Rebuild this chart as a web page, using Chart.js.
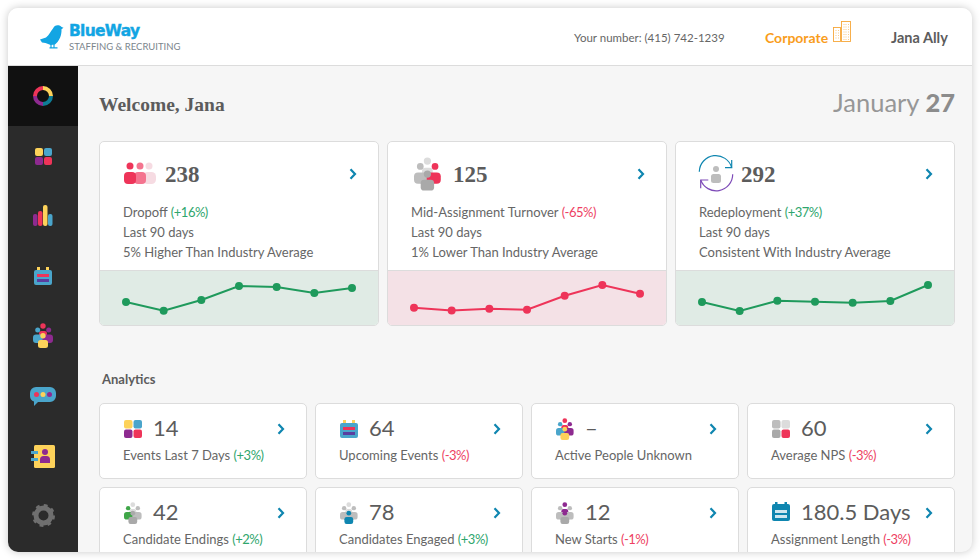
<!DOCTYPE html>
<html><head><meta charset="utf-8"><title>BlueWay dashboard</title>
<script src="https://cdn.jsdelivr.net/npm/chart.js@4"></script>
<style>
html,body{margin:0;padding:0;width:980px;height:560px;overflow:hidden;background:#fff;font-family:Lato,"Open Sans",sans-serif;color:#5c5c5c}
#app{position:absolute;left:8px;top:8px;width:964px;height:544px;border-radius:10px;background:#f6f6f6;overflow:hidden;box-shadow:0 0 8px rgba(0,0,0,.22)}
#clip{position:absolute;left:-8px;top:-8px;width:980px;height:560px}
.a{position:absolute;white-space:nowrap;line-height:1}
.card{position:absolute;box-sizing:border-box;background:#fff;border:1px solid #dcdcdc;border-radius:5px;overflow:hidden}
.panel{position:absolute;box-sizing:border-box;border-top:1px solid #dcdcdc}
canvas{position:absolute;display:block}
.up,.down{letter-spacing:-.5px}
.up{color:#2fa66d}.down{color:#ee3f63}
svg{position:absolute;overflow:visible}
</style></head><body>
<div id="app"><div id="clip"></div></div>
<script>
const weeks = ["W1","W2","W3","W4","W5","W6","W7"];
const dropoffValues = [24, 15.3, 26, 40, 39, 33, 38];
const turnoverValues = [18.3, 15.5, 17.3, 16.3, 30.3, 41, 32.3];
const redeployValues = [24, 15, 25.3, 24.3, 23.3, 25, 41];
const topNumbers = ["238","125","292"];
const topTitles = ["Dropoff","Mid-Assignment Turnover","Redeployment"];
const topChanges = ["+16%","-65%","+37%"];
const topNotes = ["5% Higher Than Industry Average","1% Lower Than Industry Average","Consistent With Industry Average"];
const tileNumbers = ["14","64","–","60","42","78","12","180.5 Days"];
const tileLabels = ["Events Last 7 Days","Upcoming Events","Active People Unknown","Average NPS","Candidate Endings","Candidates Engaged","New Starts","Assignment Length"];
const tileChanges = ["+3%","-3%","","-3%","+2%","+3%","-1%","-3%"];

const C = {y:'#fdd25a',b:'#4aa5cb',p:'#8e2a90',r:'#ee3459',g:'#bdbdbd',lg:'#dcdcdc',mg:'#a9a9a9',blue:'#0f86b0'};
const root = document.getElementById('clip');
function el(html){const t=document.createElement('div');t.innerHTML=html;const n=t.firstElementChild;root.appendChild(n);return n;}
function text(x,cy,s,style){return el(`<div class="a" style="left:${x}px;top:${cy}px;transform:translateY(-50%);${style}">${s}</div>`);}
function svg(x,y,w,h,inner){el(`<svg style="left:${x}px;top:${y}px" width="${w}" height="${h}" viewBox="0 0 ${w} ${h}">${inner}</svg>`);}
function grid4(c1,c2,c3,c4,s){const q=(s-1)/2;return `<rect width="${q}" height="${q}" rx="2" fill="${c1}"/><rect x="${q+1}" width="${q}" height="${q}" rx="2" fill="${c2}"/><rect y="${q+1}" width="${q}" height="${q}" rx="2" fill="${c3}"/><rect x="${q+1}" y="${q+1}" width="${q}" height="${q}" rx="2" fill="${c4}"/>`;}
// 20x25 group icon: back person, two side people, one front person
function crowd(k,back,left,right,frontHead,frontBody){
  return `<g transform="scale(${k})">`+
   `<circle cx="10" cy="3" r="2.700" fill="${back}"/><rect x="6" y="8" width="8" height="6" rx="2.500" fill="${back}"/>`+
   `<circle cx="4.700" cy="7" r="2.500" fill="${left}"/><circle cx="15.700" cy="7" r="2.500" fill="${right}"/>`+
   `<rect x="0" y="11.500" width="10.500" height="8.500" rx="3" fill="${left}"/><rect x="9.500" y="11.500" width="10.500" height="8.500" rx="3" fill="${right}"/>`+
   `<circle cx="10" cy="12.700" r="2.700" fill="${frontHead}"/><rect x="5" y="17" width="10" height="8" rx="2.500" fill="${frontBody}"/></g>`;
}
function calendar(){return `<rect x="3" y="0" width="3" height="6" fill="${C.y}"/><rect x="12" y="0" width="3" height="6" fill="${C.y}"/><rect y="3" width="18" height="15" rx="2" fill="${C.b}"/><rect x="3" y="7" width="12" height="3" fill="${C.r}"/><rect x="3" y="12" width="12" height="3" fill="#5a3ea0"/>`;}
function chevron(x,cy){svg(x-4,cy-6,8,12,`<path d="M1.500 1.200 6 6 1.500 10.800" fill="none" stroke="${C.blue}" stroke-width="2.200"/>`);}

// Header
el(`<div class="a" style="left:8px;top:8px;width:964px;height:58px;background:#fff;border-bottom:1px solid #dcdcdc;box-sizing:border-box"></div>`);
svg(40,24,24,26,`<path d="M0 15.500 6 13.500C9 11 11 7 13 4.500 14 1.500 17 .5 19.500 1.500 21 2.300 21.500 3 23.500 3.800L21.500 5.300C21.800 11 19.500 17 15 20.500L10.700 21 5.500 19 2 18.500Z" fill="#12a5e3"/><path d="M11 20v3.600M14 20v3.600M9.500 23.800h8" stroke="#12a5e3" stroke-width="1.200"/>`);
text(69,31,'BlueWay',"font:bold 15.500px 'DejaVu Sans',sans-serif;color:#12a5e3;letter-spacing:-.7px;-webkit-text-stroke:.4px #12a5e3");
text(69,45.500,'STAFFING &amp; RECRUITING',"font:9.500px Lato;color:#7b858c");
text(574,37,'Your number: (415) 742-1239',"font:11.500px Lato;color:#666");
text(765,37,'Corporate',"font:bold 14px Lato;color:#f99d1c");
svg(833,21,18,21,`<g fill="none" stroke="#f7a73a" stroke-width=".9"><rect x=".5" y="6.500" width="7" height="14"/><rect x="8.500" y=".5" width="9" height="20"/><path d="M3 9v10M5.500 9v10M11 3v16M13 3v16M15.500 3v16" stroke-dasharray="1 1.500" stroke-width=".6"/></g>`);
text(891,37,'Jana Ally',"font:bold 14.500px Lato;color:#5c5c5c");

// Sidebar
el(`<div class="a" style="left:8px;top:66px;width:70px;height:486px;background:#2b2b2b"></div>`);
el(`<div class="a" style="left:8px;top:66px;width:70px;height:60px;background:#111"></div>`);
svg(33,86,20,20,`<g fill="none" stroke-width="4"><path d="M10 2a8 8 0 0 1 8 8" stroke="${C.y}"/><path d="M18 10a8 8 0 0 1-8 8" stroke="#0d7c95"/><path d="M10 18a8 8 0 0 1-8-8" stroke="${C.p}"/><path d="M2 10a8 8 0 0 1 8-8" stroke="${C.r}"/></g>`);
svg(35,148,17,17,grid4(C.y,C.b,C.p,C.r,17));
svg(33,205,20,21,`<rect y="9" width="4.500" height="12" rx="2" fill="${C.p}"/><rect x="5" y="6" width="4.500" height="15" rx="2" fill="${C.r}"/><rect x="10" y="0" width="4.500" height="21" rx="2" fill="${C.y}"/><rect x="15" y="9" width="4.500" height="12" rx="2" fill="${C.b}"/>`);
svg(34,267,18,18,calendar());
svg(33,323,20,25,crowd(1,C.r,C.b,C.p,C.y,C.y));
svg(30,387,26,19,`<path d="M6 0h14a6 6 0 0 1 6 6v3a6 6 0 0 1-6 6H8l-4 4v-4.500A6 6 0 0 1 0 9V6a6 6 0 0 1 6-6z" fill="${C.b}"/><circle cx="6.500" cy="7.500" r="2.500" fill="${C.r}"/><circle cx="13" cy="7.500" r="2.500" fill="${C.y}"/><circle cx="19.500" cy="7.500" r="2.500" fill="${C.p}"/>`);
svg(31,445,24,23,`<rect x="3" y="0" width="21" height="23" rx="1.500" fill="${C.y}"/><rect y="6" width="7" height="3" fill="${C.b}"/><rect y="13" width="7" height="3" fill="${C.b}"/><circle cx="14" cy="7" r="3" fill="${C.p}"/><path d="M9 18v-3.500a3.500 3.500 0 0 1 3.500-3.500h3a3.500 3.500 0 0 1 3.500 3.500V18z" fill="${C.p}"/>`);
svg(32,504,23,23,`<circle cx="11.500" cy="11.500" r="7.500" fill="none" stroke="#6f6f6f" stroke-width="5"/><circle cx="11.500" cy="11.500" r="9.500" fill="none" stroke="#6f6f6f" stroke-width="4" stroke-dasharray="3.500 3.960"/>`);

// Titles
text(99,105,'Welcome, Jana',"font:bold 19.500px 'Liberation Serif',serif;color:#5c5c5c");
el(`<div class="a" style="right:25px;top:102px;transform:translateY(-50%);font:25.500px Lato;color:#979797">January <b style="font-weight:900;color:#8c8c8c">27</b></div>`);
text(102,379,'Analytics',"font:bold 13px Lato;color:#5c5c5c");

function changeClass(s){return s[0]==='+'?'up':'down';}
// Top cards
const topX=[99,387,675];
const topSeries=[dropoffValues,turnoverValues,redeployValues];
const topColors=[['#1f9a5c','#e0ebe5'],['#ee3459','#f4e1e6'],['#1f9a5c','#e0ebe5']];
const numX=[165,453,741];
topX.forEach((x,i)=>{
  el(`<div class="card" style="left:${x}px;top:141px;width:280px;height:185px"><div class="panel" style="left:0;top:128px;width:278px;height:56px;background:${topColors[i][1]}"></div></div>`);
  text(numX[i],175,topNumbers[i],"font:bold 23px 'Liberation Serif',serif;color:#5c5c5c");
  chevron(x+254,174);
  text(x+24,212,`${topTitles[i]} <span class="${changeClass(topChanges[i])}">(${topChanges[i]})</span>`,"font:13px Lato;color:#666");
  text(x+24,232,'Last 90 days',"font:13px Lato;color:#666");
  text(x+24,252,topNotes[i],"font:13px Lato;color:#666");
  const cv=el(`<canvas id="spark${i}" style="left:${x}px;top:270px;width:280px;height:56px"></canvas>`);
  new Chart(cv,{type:'line',data:{labels:weeks,datasets:[{data:topSeries[i],borderColor:topColors[i][0],backgroundColor:topColors[i][0],borderWidth:2,pointRadius:3,pointHoverRadius:3,tension:0,fill:false,clip:false}]},
    options:{responsive:false,animation:false,events:[],layout:{autoPadding:false,padding:{left:27,right:27,top:0,bottom:0}},
      plugins:{legend:{display:false},tooltip:{enabled:false}},
      scales:{x:{display:false,offset:false},y:{display:false,min:0,max:56}}}});
});
// Top icons
svg(124,162,32,23,
  `<circle cx="25" cy="4" r="3.500" fill="#f6dbe2"/><rect x="19" y="10" width="13" height="12" rx="4.500" fill="#f6dbe2"/>`+
  `<circle cx="16" cy="4" r="3.500" fill="#f4748f"/><rect x="10" y="10" width="12" height="12" rx="4" fill="#f4748f"/>`+
  `<circle cx="6" cy="4" r="3.500" fill="${C.r}"/><rect x="0" y="10" width="12" height="12" rx="4" fill="${C.r}"/>`);
svg(414,157,27,34,crowd(1.340,C.lg,C.g,C.r,C.mg,C.mg));
svg(699,157,35,34,
  `<path d="M.3 14.700A16.500 16.500 0 0 1 32.700 10.700" fill="none" stroke="${C.blue}" stroke-width="1.200"/><path d="M26 10.700H32.700V3" stroke="${C.blue}" stroke-width="1.200" fill="none"/>`+
  `<path d="M33.700 17.300A16.500 16.500 0 0 1 1.700 23" fill="none" stroke="#7e4bb8" stroke-width="1.200"/><path d="M9.300 23H1.700V31.300" stroke="#7e4bb8" stroke-width="1.200" fill="none"/>`+
  `<circle cx="17" cy="12" r="3" fill="${C.g}"/><rect x="12" y="17" width="10" height="9" rx="2.500" fill="${C.g}"/>`);

// Tiles
const tileX=[99,315,531,747], tileY=[403,487];
const K=.88;
const icons=[
  (x,y)=>svg(x,y,18,18,grid4(C.y,C.b,C.p,C.r,18)),
  (x,y)=>svg(x,y,18,18,calendar()),
  (x,y)=>svg(x,y-2,18,22,crowd(K,C.r,C.b,C.p,C.y,C.y)),
  (x,y)=>svg(x,y,18,18,grid4(C.g,C.lg,C.mg,C.r,18)),
  (x,y)=>svg(x,y-2,18,22,crowd(K,C.lg,'#3fa648',C.g,C.mg,C.mg)),
  (x,y)=>svg(x,y-2,18,22,crowd(K,C.lg,C.g,C.g,C.blue,C.blue)),
  (x,y)=>svg(x,y-2,18,22,crowd(K,C.p,C.g,C.g,C.p,C.mg)),
  (x,y)=>svg(x,y-2,18,20,`<rect x="3" y="0" width="2.500" height="5" fill="${C.blue}"/><rect x="12.500" y="0" width="2.500" height="5" fill="${C.blue}"/><rect y="2" width="18" height="17" rx="2" fill="${C.blue}"/><rect x="3" y="8" width="12" height="3" fill="#cfe7f0"/><rect x="3" y="13" width="12" height="3" fill="#cfe7f0"/>`)
];
tileNumbers.forEach((n,i)=>{
  const x=tileX[i%4], y=tileY[Math.floor(i/4)];
  el(`<div class="card" style="left:${x}px;top:${y}px;width:208px;height:76px"></div>`);
  icons[i](x+25,y+17);
  text(x+54,y+24,n,"font:22px Lato;color:#5c5c5c");
  chevron(x+182,y+26);
  const ch=tileChanges[i]?` <span class="${changeClass(tileChanges[i])}">(${tileChanges[i]})</span>`:'';
  text(x+24,y+52,tileLabels[i]+ch,"font:13px Lato;color:#666");
});
</script>
</body></html>
